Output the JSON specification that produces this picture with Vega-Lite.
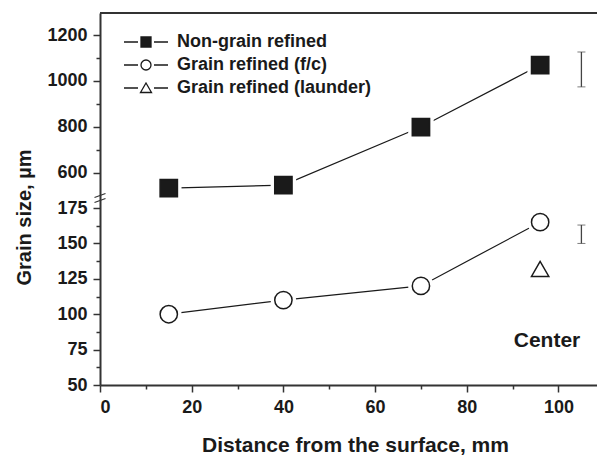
{
  "$schema": "https://vega.github.io/schema/vega-lite/v6.json",
  "width": 497,
  "height": 372,
  "autosize": {"type": "none"},
  "padding": {"left": 100, "top": 13, "right": 0, "bottom": 70},
  "config": {"view": {"stroke": null}, "font": "Liberation Sans"},
  "data": {
    "values": [
      {"series": "Non-grain refined", "x": 15, "y": 533},
      {"series": "Non-grain refined", "x": 40, "y": 546},
      {"series": "Non-grain refined", "x": 70, "y": 799},
      {"series": "Non-grain refined", "x": 96, "y": 1069},
      {"series": "Grain refined (f/c)", "x": 15, "y": 100},
      {"series": "Grain refined (f/c)", "x": 40, "y": 110},
      {"series": "Grain refined (f/c)", "x": 70, "y": 120},
      {"series": "Grain refined (f/c)", "x": 96, "y": 165},
      {"series": "Grain refined (launder)", "x": 96, "y": 132}
    ]
  },
  "encoding": {
    "x": {
      "field": "x", "type": "quantitative",
      "scale": {"domain": [0, 108.4], "nice": false, "zero": false},
      "axis": {
        "title": "Distance from the surface, mm",
        "values": [0, 10, 20, 30, 40, 50, 60, 70, 80, 90, 100],
        "format": "d",
        "labelExpr": "datum.value % 20 == 0 ? datum.label : ''",
        "tickSize": {"condition": {"test": "datum.value % 20 == 0", "value": 7}, "value": 4},
        "tickColor": "#333", "tickWidth": 1.5,
        "domainColor": "#333", "domainWidth": 2,
        "grid": false,
        "labelFont": "Liberation Sans", "labelFontWeight": "bold", "labelFontSize": 18, "labelColor": "#1a1a1a", "labelPadding": 6,
        "titleFont": "Liberation Sans", "titleFontWeight": "bold", "titleFontSize": 21, "titleColor": "#1a1a1a",
        "titleX": 255, "titleY": 66, "titleAlign": "center", "titleBaseline": "alphabetic"
      }
    },
    "y": {
      "field": "y", "type": "quantitative",
      "scale": {"domain": [50, 182.1, 489.8, 1295.9], "range": [372, 185, 185, 0], "nice": false, "zero": false},
      "axis": {
        "title": "Grain size, µm",
        "values": [50, 62.5, 75, 87.5, 100, 112.5, 125, 137.5, 150, 162.5, 175, 600, 700, 800, 900, 1000, 1100, 1200],
        "format": "d",
        "labelExpr": "(datum.value < 300 ? datum.value % 25 == 0 : datum.value % 200 == 0) ? datum.label : ''",
        "tickSize": {"condition": {"test": "(datum.value < 300 ? datum.value % 25 == 0 : datum.value % 200 == 0)", "value": 7}, "value": 4},
        "tickColor": "#333", "tickWidth": 1.5,
        "domainColor": "#333", "domainWidth": 2,
        "grid": false,
        "labelFont": "Liberation Sans", "labelFontWeight": "bold", "labelFontSize": 18, "labelColor": "#1a1a1a", "labelPadding": 6,
        "titleFont": "Liberation Sans", "titleFontWeight": "bold", "titleFontSize": 20, "titleColor": "#1a1a1a",
        "titleX": -70, "titleY": 204, "titleAngle": 270, "titleAlign": "center", "titleBaseline": "alphabetic"
      }
    }
  },
  "layer": [
    {
      "data": {"values": [{"x": 0, "x2": 108.4, "y": 1295.9}]},
      "mark": {"type": "rule", "color": "#333", "strokeWidth": 2},
      "encoding": {"x2": {"field": "x2"}}
    },
    {
      "transform": [{"filter": "datum.series != 'Grain refined (launder)'"}],
      "mark": {"type": "line", "color": "#1a1a1a", "strokeWidth": 1.2},
      "encoding": {"detail": {"field": "series", "type": "nominal"}}
    },
    {
      "mark": {"type": "point", "filled": true, "color": "white", "opacity": 1, "size": 650, "strokeWidth": 0},
      "encoding": {
        "shape": {"field": "series", "type": "nominal", "legend": null,
          "scale": {"domain": ["Non-grain refined", "Grain refined (f/c)", "Grain refined (launder)"], "range": ["square", "circle", "triangle-up"]}}
      }
    },
    {
      "mark": {"type": "point", "filled": true, "stroke": "#1a1a1a", "strokeWidth": 1.5, "opacity": 1},
      "encoding": {
        "shape": {"field": "series", "type": "nominal", "legend": null,
          "scale": {"domain": ["Non-grain refined", "Grain refined (f/c)", "Grain refined (launder)"], "range": ["square", "circle", "triangle-up"]}},
        "fill": {"field": "series", "type": "nominal", "legend": null,
          "scale": {"domain": ["Non-grain refined", "Grain refined (f/c)", "Grain refined (launder)"], "range": ["#1a1a1a", "white", "white"]}},
        "size": {"field": "series", "type": "ordinal", "legend": null,
          "scale": {"domain": ["Non-grain refined", "Grain refined (f/c)", "Grain refined (launder)"], "range": [300, 300, 390]}}
      }
    },
    {
      "transform": [{"filter": "datum.series == 'none'"}],
      "mark": {"type": "point", "filled": true, "stroke": "#1a1a1a", "strokeWidth": 1.3, "opacity": 1, "size": 100},
      "encoding": {
        "shape": {"field": "series", "type": "nominal",
          "scale": {"domain": ["Non-grain refined", "Grain refined (f/c)", "Grain refined (launder)"],
            "range": ["M-4.4,0H-1.6M1.6,0H4.4M-1,-1H1V1H-1Z", "M-4.4,0H-1.6M1.6,0H4.4M-1,0A1,1 0 1,0 1,0A1,1 0 1,0 -1,0", "M-4.4,0H-1.6M1.6,0H4.4M0,-1L1.1,0.9L-1.1,0.9Z"]},
          "legend": {
            "orient": "none", "legendX": 37, "legendY": 20, "title": null, "padding": 0,
            "labelFont": "Liberation Sans", "labelFontWeight": "bold", "labelFontSize": 18, "labelColor": "#1a1a1a", "labelLimit": 400,
            "labelOffset": 22, "rowPadding": 5, "symbolSize": 100, "symbolStrokeColor": "#1a1a1a", "symbolStrokeWidth": 1.3, "symbolOpacity": 1,
            "encode": {"symbols": {"update": {"stroke": {"value": "#1a1a1a"}, "strokeWidth": {"value": 1.3}, "opacity": {"value": 1}}}}
          }},
        "fill": {"field": "series", "type": "nominal",
          "scale": {"domain": ["Non-grain refined", "Grain refined (f/c)", "Grain refined (launder)"], "range": ["#1a1a1a", "white", "white"]},
          "legend": {
            "orient": "none", "legendX": 37, "legendY": 20, "title": null, "padding": 0,
            "labelFont": "Liberation Sans", "labelFontWeight": "bold", "labelFontSize": 18, "labelColor": "#1a1a1a", "labelLimit": 400,
            "labelOffset": 22, "rowPadding": 5, "symbolSize": 100, "symbolStrokeColor": "#1a1a1a", "symbolStrokeWidth": 1.3, "symbolOpacity": 1,
            "encode": {"symbols": {"update": {"stroke": {"value": "#1a1a1a"}, "strokeWidth": {"value": 1.3}, "opacity": {"value": 1}}}}
          }}
      }
    },
    {
      "data": {"values": [{"x": 105, "y": 974, "y2": 1126}, {"x": 105, "y": 150, "y2": 163}]},
      "mark": {"type": "errorbar", "color": "#444", "ticks": {"size": 8}, "rule": {"strokeWidth": 1.3}},
      "encoding": {"y2": {"field": "y2"}}
    },
    {
      "data": {"values": [{"label": "break", "x": 0, "y": 300}]},
      "mark": {"type": "point", "shape": "M-1.1,-0.1L1.1,-0.9M-1.1,0.9L1.1,0.1", "size": 100, "filled": false, "stroke": "#333", "fill": null, "strokeWidth": 1.3, "opacity": 1}
    },
    {
      "data": {"values": [{"label": "Center", "x": 97.5, "y": 77}]},
      "mark": {"type": "text", "font": "Liberation Sans", "fontWeight": "bold", "fontSize": 21, "color": "#1a1a1a", "align": "center", "baseline": "alphabetic"},
      "encoding": {"text": {"field": "label"}}
    }
  ],
  "resolve": {"scale": {"shape": "independent", "fill": "independent", "size": "independent"}}
}
